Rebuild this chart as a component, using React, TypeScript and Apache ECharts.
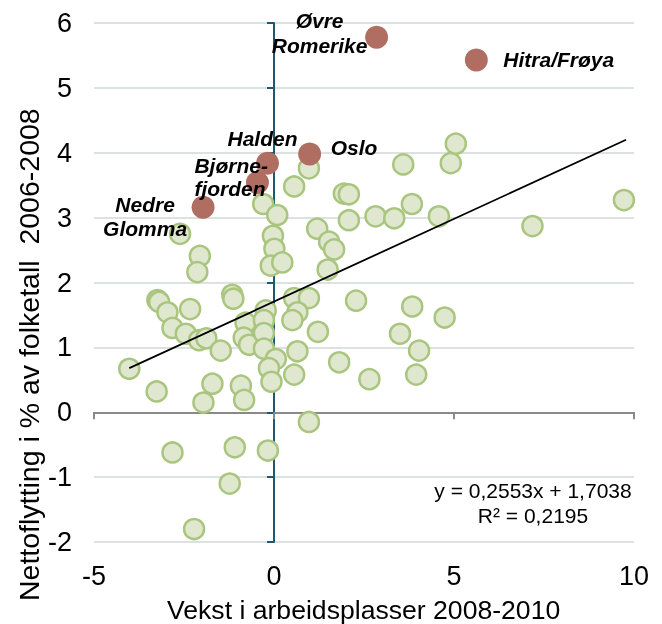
import React, { useEffect, useRef } from "react";
import * as echarts from "echarts";

// Regions (green points): x = job growth 2008-2010, y = net migration 2006-2008
const greenX = [
  0.97, 0.56, 1.94, 2.08, -0.3, 0.09, 2.08, 2.82, 3.34, 4.58, 3.83, 3.59, 4.91, 5.05, 9.72, 7.18,
  1.2, 1.53, 1.67, 1.49, -0.03, 0.01, -0.09, 0.23, -2.61, -2.06, -2.13, -3.24, -3.19, -2.96, -2.33,
  -1.16, -1.13, -2.82, -2.45, -2.08, -1.88, -1.48, -4.02, -3.26, -1.71, -1.96, -0.92, -0.83, -0.79,
  -0.84, -0.69, -0.23, -0.28, -0.28, -0.28, 0.05, -0.14, -0.07, 0.56, 0.97, 0.65, 0.51, 1.22, 0.65,
  0.56, 1.81, 2.65, 2.28, 3.84, 4.74, 3.5, 4.03, 3.95, 0.97, -2.82, -1.09, -0.17, -1.23, -2.22,
];
const greenY = [
  3.76, 3.48, 3.37, 3.36, 3.21, 3.04, 2.96, 3.02, 2.99, 3.02, 3.21, 3.82, 3.84, 4.14, 3.27, 2.87,
  2.83, 2.63, 2.51, 2.2, 2.72, 2.52, 2.26, 2.31, 2.75, 2.41, 2.16, 1.73, 1.7, 1.54, 1.59,
  1.81, 1.75, 1.3, 1.21, 1.11, 1.14, 0.95, 0.67, 0.32, 0.44, 0.15, 0.41, 0.19, 1.38,
  1.15, 1.04, 1.57, 1.42, 1.22, 0.98, 0.82, 0.68, 0.47, 1.76, 1.76, 1.54, 1.42, 1.24, 0.94,
  0.58, 0.77, 0.51, 1.72, 1.63, 1.46, 1.21, 0.95, 0.58, -0.15, -0.62, -0.54, -0.59, -1.1, -1.8,
];

// Highlighted regions
const hiNames = ["Øvre\nRomerike", "Hitra/Frøya", "Halden", "Oslo", "Bjørne-\nfjorden", "Nedre\nGlomma"];
const hiX = [2.85, 5.62, -0.18, 0.99, -0.46, -1.97];
const hiY = [5.78, 5.43, 3.84, 3.98, 3.54, 3.16];

// Trend line end points (as drawn)
const trendX = [-4.02, 9.78];
const trendY = [0.68, 4.2];

// Axis ticks
const xTicks = { min: -5, max: 10, interval: 5 };
const yTicks = { min: -2, max: 6, interval: 1 };

const equationLines = ["y = 0,2553x + 1,7038", "R² = 0,2195"];
const xTitle = "Vekst i arbeidsplasser 2008-2010";
const yTitle = "Nettoflytting i % av folketall  2006-2008";

// label layout per highlighted point (offsets in px)
const hiLabelLayout = [
  { align: "center", offset: [-57, -4.5], lineHeight: 25 },
  { align: "left", offset: [27, 0], lineHeight: 25 },
  { align: "center", offset: [-5, -25], lineHeight: 25 },
  { align: "left", offset: [21, -7], lineHeight: 25 },
  { align: "left", offset: [-63, -5.5], lineHeight: 23 },
  { align: "center", offset: [-58, 9], lineHeight: 24 },
];

const FONT = "'Liberation Sans', Arial, Helvetica, sans-serif";

export default function App() {
  const ref = useRef<HTMLDivElement>(null);
  useEffect(() => {
    if (!ref.current) return;
    const chart = echarts.init(ref.current, undefined, { renderer: "svg" });
    const greenData = greenX.map((x, i) => [x, greenY[i]]);
    const trendData = trendX.map((x, i) => [x, trendY[i]]);
    const hiData = hiX.map((x, i) => ({
      value: [x, hiY[i]],
      label: {
        show: true,
        formatter: hiNames[i],
        position: "inside",
        align: hiLabelLayout[i].align,
        verticalAlign: "middle",
        offset: hiLabelLayout[i].offset,
        lineHeight: hiLabelLayout[i].lineHeight,
        fontFamily: FONT,
        fontSize: 21,
        fontWeight: "bold",
        fontStyle: "italic",
        color: "#000",
      },
    }));
    chart.setOption({
      animation: false,
      textStyle: { fontFamily: FONT },
      grid: { left: 94, right: 28, top: 23, bottom: 82 },
      xAxis: [
        {
          type: "value",
          ...xTicks,
          position: "bottom",
          axisLine: { show: false, onZero: false },
          axisTick: { show: false },
          splitLine: { show: false },
          axisLabel: { fontSize: 27, color: "#000", margin: 20, fontFamily: FONT },
        },
        {
          type: "value",
          ...xTicks,
          position: "bottom",
          axisLine: { show: true, onZero: true, lineStyle: { color: "#898989", width: 2 } },
          axisTick: { show: true, length: 7, lineStyle: { color: "#898989", width: 2 } },
          axisLabel: { show: false },
          splitLine: { show: false },
        },
      ],
      yAxis: [
        {
          type: "value",
          ...yTicks,
          position: "left",
          axisLine: { show: false, onZero: false },
          axisTick: { show: false },
          splitLine: { show: true, lineStyle: { color: "#DCE2DF", width: 2 } },
          axisLabel: { fontSize: 27, color: "#000", margin: 22, fontFamily: FONT },
        },
        {
          type: "value",
          ...yTicks,
          position: "left",
          axisLine: { show: true, onZero: true, lineStyle: { color: "#1A5B73", width: 2 } },
          axisTick: { show: true, length: 7, lineStyle: { color: "#1A5B73", width: 2 } },
          axisLabel: { show: false },
          splitLine: { show: false },
        },
      ],
      series: [
        {
          type: "scatter",
          xAxisIndex: 0,
          yAxisIndex: 0,
          data: greenData,
          symbolSize: 20,
          itemStyle: { color: "#DFE7CF", borderColor: "#A9C57E", borderWidth: 2.5, opacity: 1 },
          z: 2,
        },
        {
          type: "line",
          xAxisIndex: 0,
          yAxisIndex: 0,
          data: trendData,
          symbol: "none",
          lineStyle: { color: "#000", width: 1.8 },
          z: 3,
        },
        {
          type: "scatter",
          xAxisIndex: 0,
          yAxisIndex: 0,
          data: hiData,
          symbolSize: 23,
          itemStyle: { color: "#B06E62", opacity: 1 },
          z: 4,
        },
      ],
      graphic: [
        {
          type: "text",
          x: 29,
          y: 601,
          rotation: Math.PI / 2,
          style: {
            text: yTitle,
            fontSize: 28.5,
            fontFamily: FONT,
            fill: "#000",
            textAlign: "left",
            textVerticalAlign: "middle",
          },
        },
        {
          type: "text",
          x: 167,
          y: 610,
          style: {
            text: xTitle,
            fontSize: 26.6,
            fontFamily: FONT,
            fill: "#000",
            textAlign: "left",
            textVerticalAlign: "middle",
          },
        },
        {
          type: "text",
          x: 533,
          y: 490,
          style: {
            text: equationLines[0],
            fontSize: 21,
            fontFamily: FONT,
            fill: "#000",
            textAlign: "center",
            textVerticalAlign: "middle",
          },
        },
        {
          type: "text",
          x: 533,
          y: 515,
          style: {
            text: equationLines[1],
            fontSize: 21,
            fontFamily: FONT,
            fill: "#000",
            textAlign: "center",
            textVerticalAlign: "middle",
          },
        },
      ],
    });
    return () => chart.dispose();
  }, []);
  return (
    <div
      ref={ref}
      style={{ position: "fixed", left: 0, top: 0, width: 662, height: 624 }}
    />
  );
}
